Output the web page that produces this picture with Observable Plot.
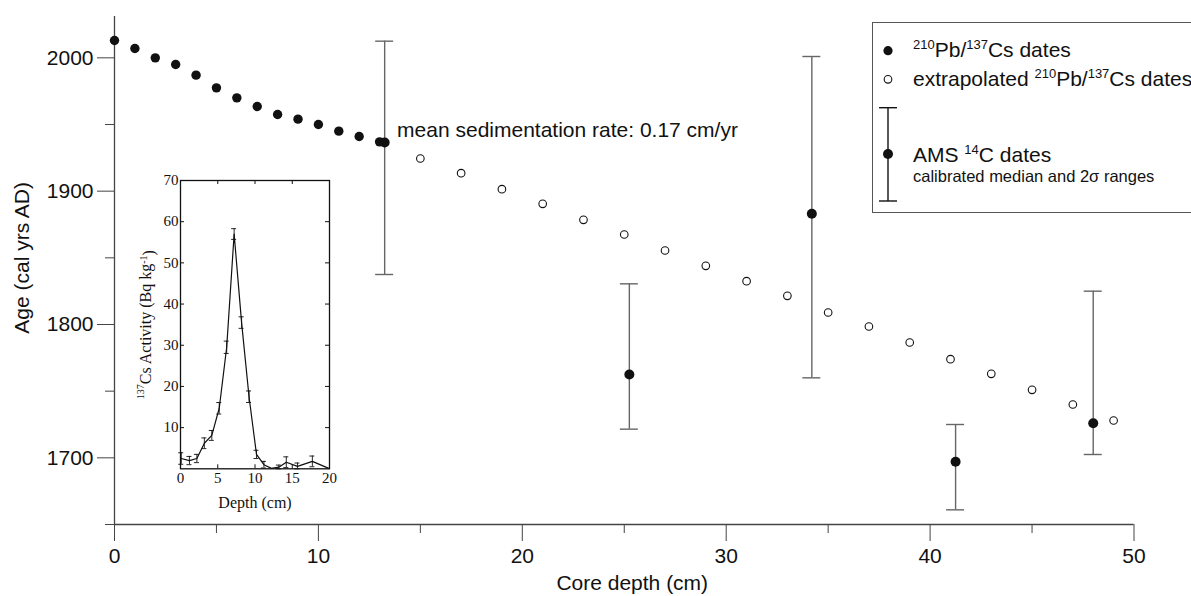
<!DOCTYPE html>
<html><head><meta charset="utf-8">
<script src="https://cdn.jsdelivr.net/npm/d3@7"></script>
<script src="https://cdn.jsdelivr.net/npm/@observablehq/plot@0.6"></script>
<style>
html,body{margin:0;padding:0;background:#fff;overflow:hidden;}
#wrap{position:relative;width:1191px;height:596px;overflow:hidden;}
#main{position:absolute;left:0;top:0;}
#inset{position:absolute;left:100px;top:170px;}
#legend{position:absolute;left:860px;top:10px;}
</style></head><body>
<div id="wrap"><div id="main"></div><div id="inset"></div><div id="legend"></div></div>
<script>
// ---- main chart data ----
const pbDepth = [0,1,2,3,4,5,6,7,8,9,10,11,12,13];
const pbAge = [2013,2007,2000,1995,1987,1977.5,1970,1963.5,1957.5,1954,1950,1945,1941,1937];
const extDepth = [15,17,19,21,23,25,27,29,31,33,35,37,39,41,43,45,47,49];
const extAge = [1924.5,1913.5,1901.5,1890.5,1878.5,1867.5,1855.5,1844,1832.5,1821.5,1809,1798.5,1786.5,1774,1763,1751,1740,1728];
const amsDepth = [13.25,25.25,34.2,41.25,48.0];
const amsMedian = [1936.5,1762.5,1883,1697,1726];
const amsLow = [1837.5,1721.5,1760,1661,1702.5];
const amsHigh = [2012.5,1830.5,2001,1725,1825];
const xTicks = [0,10,20,30,40,50];
const xMinor = [5,15,25,35,45];
const yTicks = [1700,1800,1900,2000];
const yMinor = [1650,1750,1850,1950];
const xTitle = "Core depth (cm)";
const yTitle = "Age (cal yrs AD)";
const note = "mean sedimentation rate: 0.17 cm/yr";
const noteDepth = 13.86, noteAge = 1945.5, yTitleAge = 1850;

// ---- inset data (137Cs activity) ----
const csDepth = [0.1,1.2,2.2,3.2,4.2,5.2,6.2,7.2,8.2,9.2,10.2,11.2,12.2,13.2,14.2,15.7,17.7,19.9];
const csActivity = [2.5,2.0,2.5,6.2,8.1,14.7,29.5,57,35.5,17.5,3.5,1.0,0.1,0.4,1.6,0.6,1.8,0.1];
const csError = [1.4,1.0,1.0,1.3,1.2,1.4,1.5,1.3,1.4,1.4,1.0,0.8,0,0.5,1.3,0.8,1.3,0];
const insetXTicks = [0,5,10,15,20];
const insetYTicks = [10,20,30,40,50,60,70];
const insetXTitle = "Depth (cm)";
const insetYTitle = "137Cs Activity (Bq kg-1)";

const pb = pbDepth.map((d,i)=>({depth:d, age:pbAge[i]}));
const ext = extDepth.map((d,i)=>({depth:d, age:extAge[i]}));
const ams = amsDepth.map((d,i)=>({depth:d, age:amsMedian[i], lo:amsLow[i], hi:amsHigh[i]}));

const axisColor = "#444";
const main = Plot.plot({
  width: 1191, height: 596,
  marginLeft: 114, marginRight: 57.5, marginTop: 16, marginBottom: 72,
  x: {domain: [0,50]},
  y: {domain: [1650,2031]},
  style: {fontFamily: "'Liberation Sans', Arial, sans-serif", fontSize: "21px", color: "#111", background: "transparent"},
  marks: [
    Plot.ruleX([0], {stroke: axisColor, strokeWidth: 1.3}),
    Plot.ruleY([1650], {stroke: axisColor, strokeWidth: 1.3}),
    Plot.axisX({ticks: xTicks, tickSize: 17, tickPadding: 7, tickFormat: d=>String(d), label: null, stroke: axisColor}),
    Plot.axisX({ticks: xMinor, tickSize: 9, tickFormat: () => "", label: null, stroke: axisColor}),
    Plot.axisY({ticks: yTicks, tickSize: 17, tickPadding: 4, tickFormat: d=>String(d), label: null, stroke: axisColor}),
    Plot.axisY({ticks: yMinor, tickSize: 9, tickFormat: () => "", label: null, stroke: axisColor}),
    Plot.text([xTitle], {text: d=>d, frameAnchor: "bottom", dy: 65, dx: 8, lineAnchor: "bottom", textAnchor: "middle"}),
    Plot.text([yTitle], {text: d=>d, y: () => yTitleAge, frameAnchor: "left", dx: -92, rotate: -90, lineAnchor: "middle", textAnchor: "middle"}),
    Plot.ruleX(ams, {x: "depth", y1: "lo", y2: "hi", stroke: "#666", strokeWidth: 1.4}),
    Plot.ruleY(ams, {y: "lo", x1: "depth", x2: "depth", insetLeft: -9, insetRight: -9, stroke: "#666", strokeWidth: 1.4}),
    Plot.ruleY(ams, {y: "hi", x1: "depth", x2: "depth", insetLeft: -9, insetRight: -9, stroke: "#666", strokeWidth: 1.4}),
    Plot.dot(ext, {x: "depth", y: "age", r: 3.8, fill: "#fff", stroke: "#111", strokeWidth: 1.1}),
    Plot.dot(pb, {x: "depth", y: "age", r: 4.7, fill: "#111", stroke: "none"}),
    Plot.dot(ams, {x: "depth", y: "age", r: 5, fill: "#111", stroke: "none"}),
    Plot.text([note], {text: d=>d, x: () => noteDepth, y: () => noteAge, textAnchor: "start", lineAnchor: "middle"})
  ]
});
document.getElementById("main").appendChild(main);

// ---- inset ----
const cs = csDepth.map((d,i)=>({depth:d, act:csActivity[i], lo:Math.max(0,csActivity[i]-csError[i]), hi:csActivity[i]+csError[i], err:csError[i]}));
const csErr = cs.filter(d=>d.err>0);
const innerTicksY = insetYTicks.filter(v=>v<70);
const innerTicksX = insetXTicks.filter(v=>v>0 && v<20);
const fw = 260-80-31, fh = 345-10-46.7;
const inset = Plot.plot({
  width: 260, height: 345,
  marginLeft: 80, marginRight: 31, marginTop: 10, marginBottom: 46.7,
  x: {domain: [0,20]},
  y: {domain: [0,70]},
  style: {fontFamily: "'Liberation Serif', 'Times New Roman', serif", fontSize: "15px", color: "#111", background: "transparent", overflow: "visible"},
  marks: [
    Plot.frame({fill: "#fff", stroke: "#111", strokeWidth: 1.3}),
    Plot.tickY(innerTicksY, {y: d=>d, insetRight: fw-4, stroke: "#111"}),
    Plot.tickY(innerTicksY, {y: d=>d, insetLeft: fw-4, stroke: "#111"}),
    Plot.tickX(innerTicksX, {x: d=>d, insetBottom: fh-4, stroke: "#111"}),
    Plot.tickX(innerTicksX, {x: d=>d, insetTop: fh-4, stroke: "#111"}),
    Plot.axisX({ticks: insetXTicks, tickSize: 0, tickPadding: 4, tickFormat: d=>String(d), label: null}),
    Plot.axisY({ticks: insetYTicks, tickSize: 0, tickPadding: 2, tickFormat: d=>String(d), label: null}),
    Plot.ruleX(csErr, {x: "depth", y1: "lo", y2: "hi", stroke: "#111", strokeWidth: 0.9}),
    Plot.ruleY(csErr, {y: "lo", x1: "depth", x2: "depth", insetLeft: -2.5, insetRight: -2.5, stroke: "#111", strokeWidth: 0.9}),
    Plot.ruleY(csErr, {y: "hi", x1: "depth", x2: "depth", insetLeft: -2.5, insetRight: -2.5, stroke: "#111", strokeWidth: 0.9}),
    Plot.line(cs, {x: "depth", y: "act", stroke: "#111", strokeWidth: 1.2}),
    Plot.text([insetXTitle], {text: d=>d, frameAnchor: "bottom", dy: 39, lineAnchor: "bottom", textAnchor: "middle", fontSize: 16}),
    Plot.text([insetYTitle], {text: d=>d, frameAnchor: "left", dx: -37, rotate: -90, lineAnchor: "middle", textAnchor: "middle", fontSize: 16})
  ]
});
document.getElementById("inset").appendChild(inset);
// superscripts in inset y title
d3.select(inset).selectAll("text").filter(function(){return this.textContent === insetYTitle;}).each(function(){
  const t = d3.select(this);
  t.text(null);
  t.append("tspan").attr("font-size", 10).attr("dy", "-0.45em").text("137");
  t.append("tspan").attr("dy", "0.45em").text("Cs Activity (Bq kg");
  t.append("tspan").attr("font-size", 10).attr("dy", "-0.45em").text("-1");
  t.append("tspan").attr("dy", "0.45em").text(")");
});

// ---- legend ----
const sup = (s) => `<tspan font-size="13" dy="-8">${s}</tspan>`;
const back = (s) => `<tspan dy="8">${s}</tspan>`;
document.getElementById("legend").innerHTML = `
<svg width="331" height="210" xmlns="http://www.w3.org/2000/svg" style="font-family:'Liberation Sans',Arial,sans-serif" fill="#111">
<rect x="12.5" y="12.5" width="400" height="190" fill="#fff" stroke="#555" stroke-width="1"/>
<circle cx="28" cy="40.7" r="4.6" fill="#111"/>
<text x="53" y="47" font-size="21">${sup("210")}${back("Pb/")}${sup("137")}${back("Cs dates")}</text>
<circle cx="28" cy="69.3" r="3.8" fill="#fff" stroke="#111" stroke-width="1.1"/>
<text x="53" y="76" font-size="21">extrapolated ${sup("210")}${back("Pb/")}${sup("137")}${back("Cs dates")}</text>
<line x1="28" x2="28" y1="97.7" y2="191" stroke="#111" stroke-width="1.4"/>
<line x1="19" x2="37" y1="97.7" y2="97.7" stroke="#111" stroke-width="1.4"/>
<line x1="19" x2="37" y1="191" y2="191" stroke="#111" stroke-width="1.4"/>
<circle cx="28" cy="144" r="5" fill="#111"/>
<text x="53" y="152.3" font-size="21">AMS ${sup("14")}${back("C dates")}</text>
<text x="53" y="171.7" font-size="16.5">calibrated median and 2σ ranges</text>
</svg>`;
</script>
</body></html>
